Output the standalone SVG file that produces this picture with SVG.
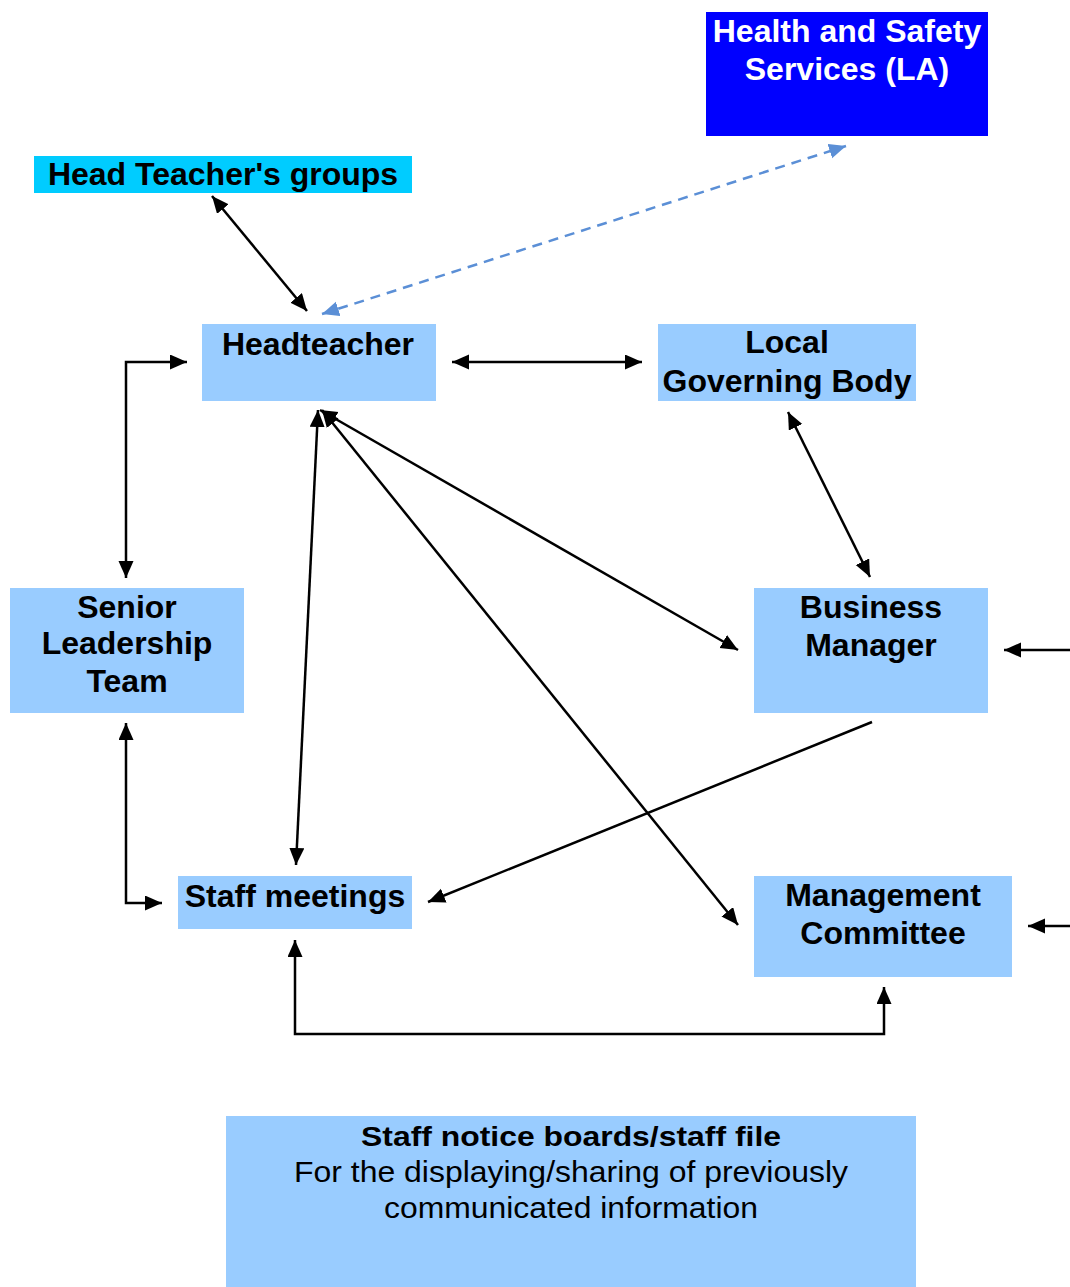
<svg xmlns="http://www.w3.org/2000/svg" width="1070" height="1287" viewBox="0 0 1070 1287">
<defs>
<marker id="ah" markerUnits="userSpaceOnUse" markerWidth="20" markerHeight="18" refX="17" refY="7.5" orient="auto-start-reverse">
<path d="M0,0 L17,7.5 L0,15 z" fill="#000"/>
</marker>
<marker id="ahb" markerUnits="userSpaceOnUse" markerWidth="20" markerHeight="18" refX="17" refY="7.5" orient="auto-start-reverse">
<path d="M0,0 L17,7.5 L0,15 z" fill="#5B8FD6"/>
</marker>
</defs>
<style>
.box{fill:#99CCFF}
.t{font-family:"Liberation Sans",Arial,sans-serif;font-weight:bold;font-size:32px;fill:#000;text-anchor:middle}
.c{fill:none;stroke:#000;stroke-width:2.5;marker-start:url(#ah);marker-end:url(#ah)}
.c1{fill:none;stroke:#000;stroke-width:2.5;marker-end:url(#ah)}
</style>
<rect width="1070" height="1287" fill="#fff"/>
<g id="health-safety">
<rect x="706" y="12" width="282" height="124" fill="#0000FF"/>
<text class="t" x="847" y="42" style="fill:#fff">Health and Safety</text>
<text class="t" x="847" y="80" style="fill:#fff">Services (LA)</text>
</g>
<g id="ht-groups">
<rect x="34" y="156" width="378" height="37" fill="#00CCFF"/>
<text class="t" x="223" y="185">Head Teacher's groups</text>
</g>
<g id="headteacher">
<rect class="box" x="202" y="324" width="234" height="77"/>
<text class="t" x="318" y="355">Headteacher</text>
</g>
<g id="lgb">
<rect class="box" x="658" y="324" width="258" height="77"/>
<text class="t" x="787" y="353">Local</text>
<text class="t" x="787" y="392">Governing Body</text>
</g>
<g id="slt">
<rect class="box" x="10" y="588" width="234" height="125"/>
<text class="t" x="127" y="618">Senior</text>
<text class="t" x="127" y="654">Leadership</text>
<text class="t" x="127" y="692">Team</text>
</g>
<g id="business-manager">
<rect class="box" x="754" y="588" width="234" height="125"/>
<text class="t" x="871" y="618">Business</text>
<text class="t" x="871" y="656">Manager</text>
</g>
<g id="staff-meetings">
<rect class="box" x="178" y="876" width="234" height="53"/>
<text class="t" x="295" y="907">Staff meetings</text>
</g>
<g id="management-committee">
<rect class="box" x="754" y="876" width="258" height="101"/>
<text class="t" x="883" y="906">Management</text>
<text class="t" x="883" y="944">Committee</text>
</g>
<g id="notice-boards">
<rect class="box" x="226" y="1116" width="690" height="171"/>
<text class="t" x="571" y="1146" style="font-size:28px" textLength="420" lengthAdjust="spacingAndGlyphs">Staff notice boards/staff file</text>
<text class="t" x="571" y="1182" style="font-weight:normal;font-size:29px" textLength="554" lengthAdjust="spacingAndGlyphs">For the displaying/sharing of previously</text>
<text class="t" x="571" y="1218" style="font-weight:normal;font-size:29px" textLength="374" lengthAdjust="spacingAndGlyphs">communicated information</text>
</g>
<g id="connectors">
<line class="c" x1="212" y1="196" x2="307" y2="311"/>
<line x1="322" y1="314" x2="846" y2="146" fill="none" stroke="#5B8FD6" stroke-width="2.5" stroke-dasharray="10,7" marker-start="url(#ahb)" marker-end="url(#ahb)"/>
<line class="c" x1="452" y1="362" x2="642" y2="362"/>
<path class="c" d="M126,578 V362 H187"/>
<line class="c" x1="788" y1="412" x2="870" y2="577"/>
<line class="c" x1="320" y1="410" x2="738" y2="650"/>
<line class="c" x1="318" y1="410" x2="296" y2="865"/>
<line class="c" x1="322" y1="410" x2="738" y2="925"/>
<line class="c1" x1="872" y1="722" x2="428" y2="902"/>
<line class="c1" x1="1070" y1="650" x2="1004" y2="650"/>
<line class="c1" x1="1070" y1="926" x2="1028" y2="926"/>
<path class="c" d="M126,723 V903 H162"/>
<path class="c" d="M295,940 V1034 H884 V987"/>
</g>
</svg>
